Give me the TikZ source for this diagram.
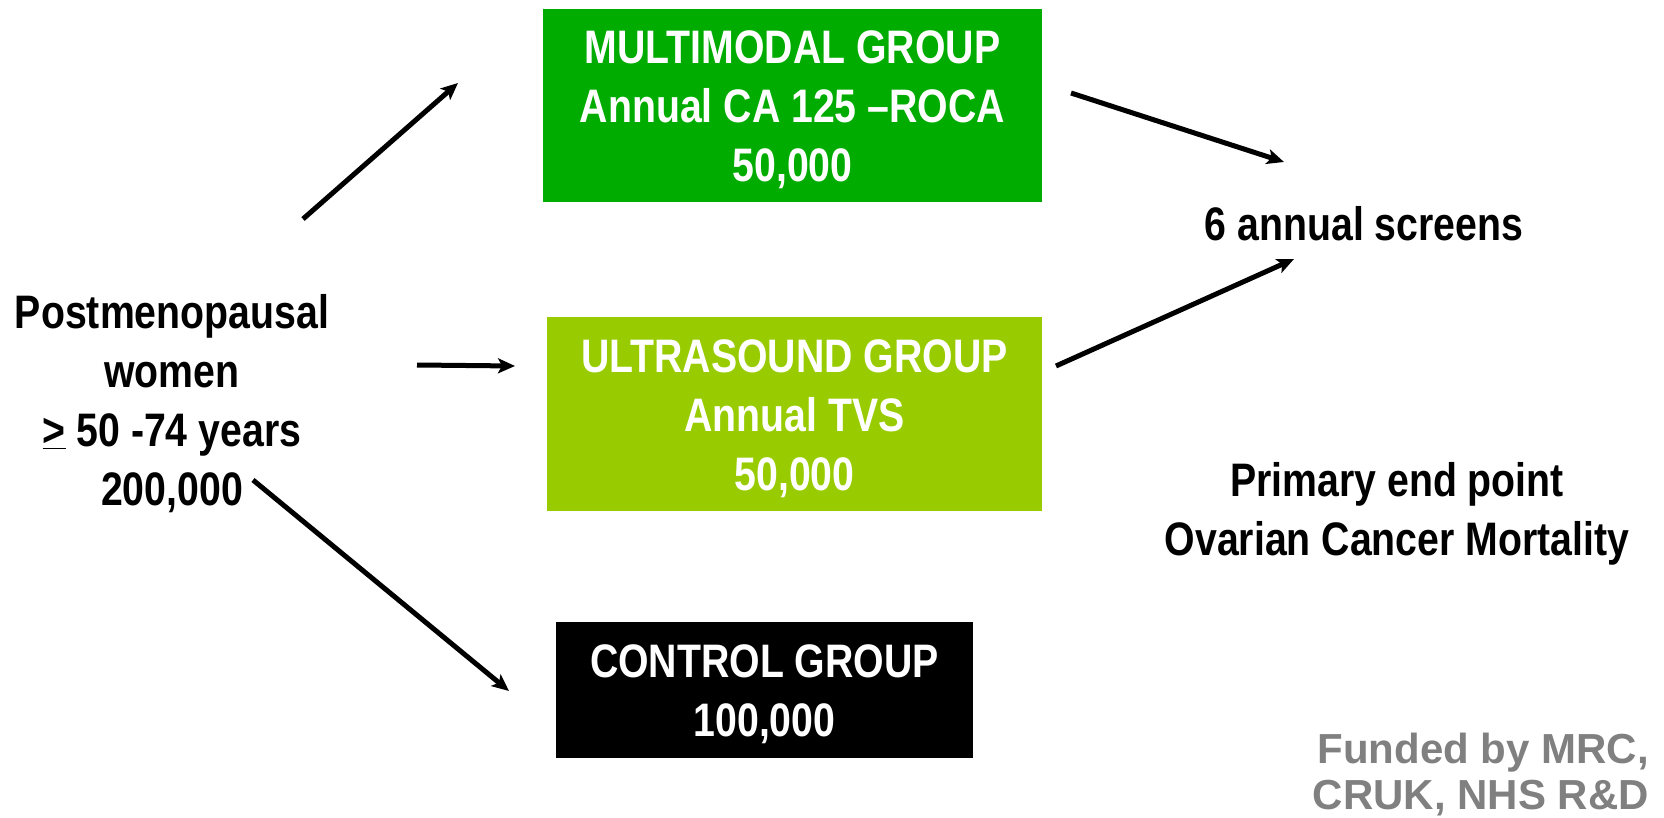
\documentclass[tikz,border=0pt]{standalone}
\usepackage{fontspec}
\setmainfont{Liberation Sans}
\newfontfamily\narrowfont{Liberation Sans}[FakeStretch=0.835]
\usetikzlibrary{arrows.meta}
\definecolor{mmgreen}{HTML}{00AC00}
\definecolor{usgreen}{HTML}{99CC00}
\definecolor{fundgray}{HTML}{808080}
\tikzset{
  bigtext/.style={font=\narrowfont\bfseries\fontsize{47}{59}\selectfont, align=center, inner sep=0pt},
  conn/.style={line width=5pt, -{Stealth[length=17pt,width=15pt,inset=4pt]}},
}
\begin{document}
\begin{tikzpicture}[x=1pt,y=-1pt]
\useasboundingbox[fill=white] (0,0) rectangle (1664,818);
% boxes
\fill[mmgreen] (543,9) rectangle (1042,202);
\fill[usgreen] (547,317) rectangle (1042,511);
\fill[black] (556,622) rectangle (973,758);
\node[bigtext, text=white] (mm) at (792.5,110) {MULTIMODAL GROUP\\Annual CA 125 \textendash ROCA\\50,000};
\node[bigtext, text=white] (us) at (794.5,419) {ULTRASOUND GROUP\\Annual TVS\\50,000};
\node[bigtext, text=white] (ctl) at (764.5,694) {CONTROL GROUP\\100,000};
\node[bigtext] (pop) at (172,404) {Postmenopausal\\women\\\underline{>} 50 -74 years\\200,000};
\node[bigtext] (scr) at (1364,224) {6 annual screens};
\node[bigtext] (end) at (1397,514) {Primary end point\\Ovarian Cancer Mortality};
\node[font=\bfseries\fontsize{42}{46}\selectfont, text=fundgray, align=right, inner sep=0pt, anchor=east] (fund) at (1649,775) {Funded by MRC,\\CRUK, NHS R\&D};
% arrow ends
\coordinate (a1s) at (303,219); \coordinate (a1e) at (458,83);
\coordinate (a2s) at (417,365); \coordinate (a2e) at (515,366);
\coordinate (a3s) at (253,480); \coordinate (a3e) at (509,691);
\coordinate (a4s) at (1071,93); \coordinate (a4e) at (1284,162);
\coordinate (a5s) at (1056,366); \coordinate (a5e) at (1294,259);
\draw[conn] (a1s) -- (a1e);
\draw[conn] (a2s) -- (a2e);
\draw[conn] (a3s) -- (a3e);
\draw[conn] (a4s) -- (a4e);
\draw[conn] (a5s) -- (a5e);
\end{tikzpicture}
\end{document}
